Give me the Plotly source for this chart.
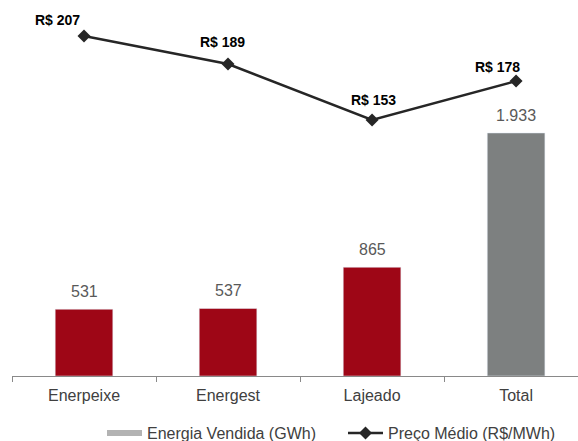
import plotly.graph_objects as go

categories = ["Enerpeixe", "Energest", "Lajeado", "Total"]
energia = [531, 537, 865, 1933]
energia_labels = ["531", "537", "865", "1.933"]
preco = [207, 189, 153, 178]
preco_labels = ["R$ 207", "R$ 189", "R$ 153", "R$ 178"]

bar_colors = ["#9e0616", "#9e0616", "#9e0616", "#7d8080"]
FONT = "Liberation Sans, Arial, sans-serif"

fig = go.Figure()
fig.add_trace(go.Bar(
    x=categories, y=energia, marker_color=bar_colors, width=0.4,
    showlegend=False, hoverinfo="skip",
))
# legend entry for bars (drawn as a thick grey swatch)
fig.add_trace(go.Scatter(
    x=[None], y=[None], mode="lines", line=dict(color="#b3b3b3", width=6),
    name="Energia Vendida (GWh)",
))
fig.add_trace(go.Scatter(
    x=categories, y=preco, yaxis="y2", mode="lines+markers",
    line=dict(color="#262626", width=2.5),
    marker=dict(symbol="diamond", size=10, color="#262626"),
    name="Preço Médio (R$/MWh)", cliponaxis=False, hoverinfo="skip",
))

for c, v, lab in zip(categories, energia, energia_labels):
    fig.add_annotation(x=c, y=v, xref="x", yref="y", text=lab, showarrow=False,
                       yanchor="bottom", yshift=7,
                       font=dict(size=16, color="#595959", family=FONT))

offsets = [(-27, 16), (-6, 22), (1, 20), (-19, 14)]
for c, v, lab, (dx, dy) in zip(categories, preco, preco_labels, offsets):
    fig.add_annotation(x=c, y=v, xref="x", yref="y2", text="<b>%s</b>" % lab,
                       showarrow=False, xshift=dx, yshift=dy,
                       font=dict(size=14, color="#000000", family=FONT))

fig.update_layout(
    width=578, height=441,
    margin=dict(l=12, r=0, t=5, b=65, autoexpand=False),
    paper_bgcolor="white", plot_bgcolor="white",
    bargap=0.6, barmode="overlay",
    font=dict(family=FONT, color="#404040"),
    xaxis=dict(
        range=[-0.5, 3.43], showline=True, linecolor="#898989", linewidth=1,
        ticks="outside", tickson="boundaries", ticklen=5, tickcolor="#898989",
        tickfont=dict(size=16, color="#404040", family=FONT),
        ticklabelstandoff=5, showgrid=False,
    ),
    yaxis=dict(range=[0, 2951], visible=False, showgrid=False),
    yaxis2=dict(range=[-11.5, 226.9], overlaying="y", visible=False, showgrid=False),
    legend=dict(orientation="h", x=0.159, xanchor="left", y=-0.108, yanchor="top",
                font=dict(size=16, color="#404040", family=FONT),
                traceorder="normal", itemwidth=35, entrywidth=191),
    showlegend=True,
)

fig.write_html("out.html", post_script="document.body.style.margin='0';",
               config={"displayModeBar": False})
